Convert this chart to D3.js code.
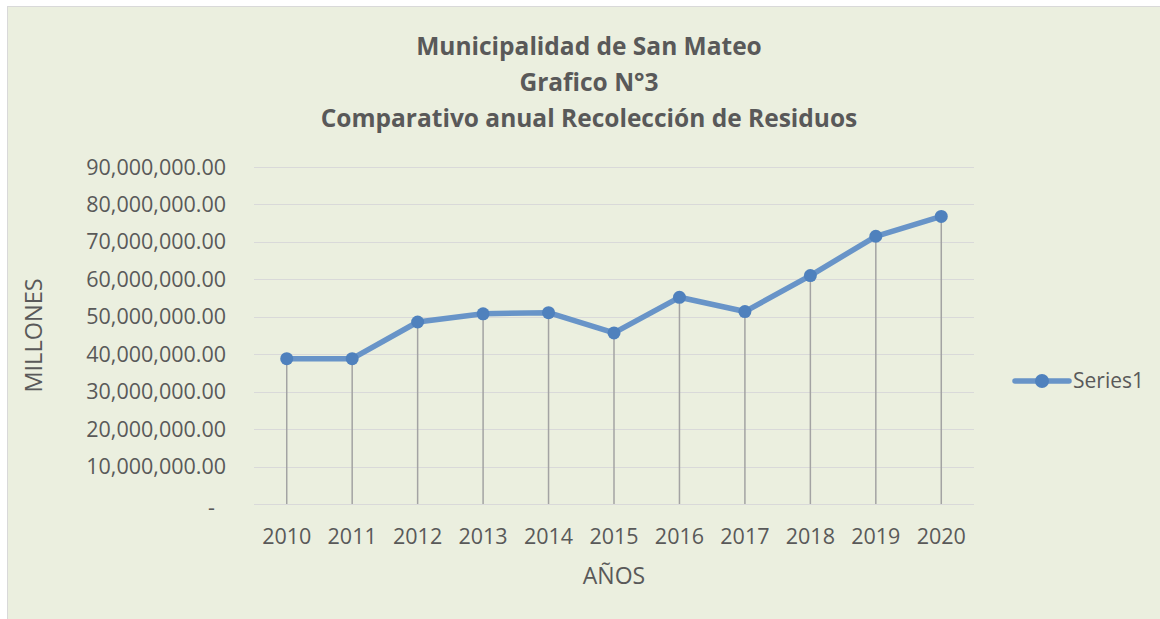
<!DOCTYPE html>
<html>
<head>
    <meta charset="utf-8">
    <script src="https://d3js.org/d3.v7.min.js"></script>
    <style>
        body {
            margin: 0;
            background: #fff;
            font-family: 'Open Sans', sans-serif;
        }
    </style>
</head>

<body>
    <script>
        // data
        const years = ['2010', '2011', '2012', '2013', '2014', '2015', '2016', '2017', '2018', '2019', '2020'];
        const recoleccion = [38800000, 38800000, 48600000, 50800000, 51100000, 45700000, 55200000, 51400000, 61000000, 71500000, 76800000];
        const yTicks = [0, 10000000, 20000000, 30000000, 40000000, 50000000, 60000000, 70000000, 80000000, 90000000];
        const titleLines = ['Municipalidad de San Mateo', 'Grafico N°3', 'Comparativo anual Recolección de Residuos'];
        const seriesName = 'Series1';

        const width = 1160,
            height = 619;
        const margin = {top: 167, right: 186, bottom: 115, left: 254};

        const textColor = '#595959',
            lineColor = '#6894c8',
            markerColor = '#4f81bd';

        const svg = d3.select('body').append('svg')
            .attr('width', width)
            .attr('height', height);

        // chart area
        svg.append('rect')
            .attr('x', 7.5).attr('y', 6.5)
            .attr('width', width).attr('height', height)
            .attr('fill', '#ebefdf')
            .attr('stroke', '#d9d9d9');

        const x = d3.scaleBand()
            .domain(years)
            .range([margin.left, width - margin.right]);

        const y = d3.scaleLinear()
            .domain([0, 90000000])
            .range([height - margin.bottom, margin.top]);

        const fmt = d => d === 0 ? '-' : d3.format(',.2f')(d);

        // gridlines
        svg.append('g')
            .selectAll('line')
            .data(yTicks)
            .join('line')
            .attr('x1', x.range()[0]).attr('x2', x.range()[1])
            .attr('y1', d => Math.round(y(d)) + 0.5)
            .attr('y2', d => Math.round(y(d)) + 0.5)
            .attr('stroke', '#d9d9d9')
            .attr('stroke-width', 1.2);

        // y axis labels (accounting style: the zero dash sits a bit left)
        svg.append('g')
            .selectAll('text')
            .data(yTicks)
            .join('text')
            .attr('x', d => d === 0 ? 215 : 226)
            .attr('y', d => y(d) + (d === 0 ? 3 : 0))
            .attr('dy', '0.35em')
            .attr('text-anchor', 'end')
            .attr('fill', textColor)
            .style('font-size', '21.5px')
            .text(fmt);

        // x axis labels
        svg.append('g')
            .selectAll('text')
            .data(years)
            .join('text')
            .attr('x', d => x(d) + x.bandwidth() / 2)
            .attr('y', height - margin.bottom + 40)
            .attr('text-anchor', 'middle')
            .attr('fill', textColor)
            .style('font-size', '21.5px')
            .text(d => d);

        // axis titles
        svg.append('text')
            .attr('x', (x.range()[0] + x.range()[1]) / 2)
            .attr('y', 584)
            .attr('text-anchor', 'middle')
            .attr('fill', textColor)
            .style('font-size', '23px')
            .text('AÑOS');

        svg.append('text')
            .attr('transform', `translate(42,${(y.range()[0] + y.range()[1]) / 2}) rotate(-90)`)
            .attr('text-anchor', 'middle')
            .attr('fill', textColor)
            .style('font-size', '23.5px')
            .text('MILLONES');

        // title
        svg.append('text')
            .attr('text-anchor', 'middle')
            .attr('fill', textColor)
            .style('font-size', '24.5px')
            .style('font-weight', 'bold')
            .selectAll('tspan')
            .data(titleLines)
            .join('tspan')
            .attr('x', 589)
            .attr('y', (d, i) => 55 + i * 36)
            .text(d => d);

        const pts = years.map((yr, i) => ({year: yr, value: recoleccion[i]}));
        const cx = d => x(d.year) + x.bandwidth() / 2;

        // drop lines
        svg.append('g')
            .selectAll('line')
            .data(pts)
            .join('line')
            .attr('x1', cx).attr('x2', cx)
            .attr('y1', d => y(d.value))
            .attr('y2', y(0))
            .attr('stroke', '#a3a3a3')
            .attr('stroke-width', 1.5);

        const line = d3.line()
            .x(cx)
            .y(d => y(d.value));

        svg.append('path')
            .datum(pts)
            .attr('d', line)
            .attr('fill', 'none')
            .attr('stroke', lineColor)
            .attr('stroke-width', 5.5)
            .attr('stroke-linejoin', 'round');

        svg.append('g')
            .selectAll('circle')
            .data(pts)
            .join('circle')
            .attr('cx', cx)
            .attr('cy', d => y(d.value))
            .attr('r', 6.5)
            .attr('fill', markerColor);

        // legend
        const legend = svg.append('g').attr('transform', 'translate(1015,381)');
        legend.append('line')
            .attr('x1', 0).attr('x2', 54)
            .attr('stroke', lineColor)
            .attr('stroke-width', 5.5)
            .attr('stroke-linecap', 'round');
        legend.append('circle')
            .attr('cx', 27)
            .attr('r', 7)
            .attr('fill', markerColor);
        legend.append('text')
            .attr('x', 58)
            .attr('dy', '0.35em')
            .attr('fill', textColor)
            .style('font-size', '21px')
            .text(seriesName);
    </script>
</body>

</html>
